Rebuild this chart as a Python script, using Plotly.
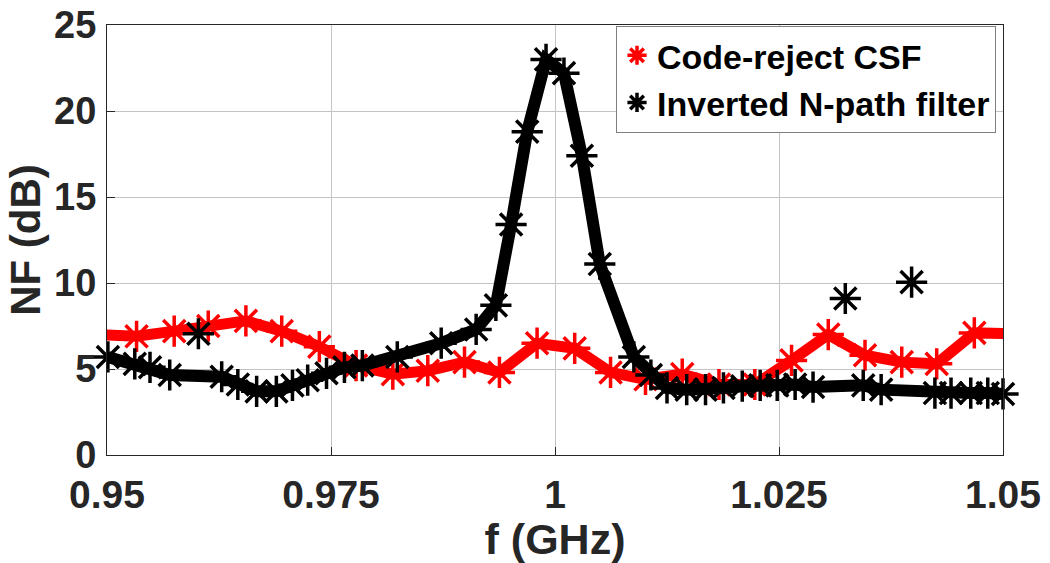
import plotly.graph_objects as go

# Code-reject CSF noise figure (dB) vs frequency (GHz)
csf_f = [0.9492, 0.9533, 0.9575, 0.9613, 0.9655, 0.9695, 0.9737, 0.9778, 0.9819,
         0.9858, 0.9899, 0.9938, 0.9980, 1.0022, 1.0062, 1.0101, 1.0142, 1.0183,
         1.0223, 1.0264, 1.0305, 1.0346, 1.0387, 1.0426, 1.0468, 1.0509]
csf_nf = [7.0, 6.9, 7.2, 7.5, 7.8, 7.2, 6.3, 5.2, 4.7,
          4.9, 5.4, 4.8, 6.5, 6.2, 4.8, 4.4, 4.7, 4.1,
          4.1, 5.5, 7.0, 5.8, 5.4, 5.3, 7.1, 7.05]

# Inverted N-path filter noise figure (dB) vs frequency (GHz)
npf_f = [0.9501, 0.9531, 0.9548, 0.9570, 0.9628, 0.9646, 0.9667, 0.9689, 0.9707,
         0.9724, 0.9745, 0.9765, 0.9785, 0.9824, 0.9873, 0.9912, 0.9934, 0.9951,
         0.9969, 0.9990, 1.0010, 1.0030, 1.0050, 1.0088, 1.0107, 1.0125, 1.0147,
         1.0168, 1.0188, 1.0209, 1.0229, 1.0248, 1.0268, 1.0288, 1.0344, 1.0364,
         1.0424, 1.0442, 1.0464, 1.0483, 1.0500]
npf_nf = [5.7, 5.3, 5.1, 4.65, 4.55, 4.1, 3.7, 3.7, 4.05,
          4.35, 4.75, 5.1, 5.2, 5.7, 6.5, 7.3, 8.7, 13.4,
          18.8, 23.0, 22.2, 17.4, 11.1, 5.7, 4.65, 3.9, 3.8,
          3.8, 3.9, 4.0, 4.05, 4.05, 4.1, 3.95, 4.05, 3.8,
          3.6, 3.6, 3.6, 3.6, 3.55]

# Stray inverted N-path measurements (markers only)
npf_extra_f = [0.9602, 1.0324, 1.0398]
npf_extra_nf = [7.05, 9.1, 10.05]

x_ticks = [0.95, 0.975, 1.0, 1.025, 1.05]
x_tick_text = ["0.95", "0.975", "1", "1.025", "1.05"]
y_ticks = [0, 5, 10, 15, 20, 25]

RED = "#ff0000"
BLACK = "#000000"
AXIS_GREY = "#262626"
FONT = "Liberation Sans"


def star(color, size=26, width=3.5):
    return dict(symbol="asterisk", size=size, color=color,
                line=dict(color=color, width=width))


fig = go.Figure()

fig.add_trace(go.Scatter(x=csf_f, y=csf_nf, mode="lines",
                         line=dict(color=RED, width=11), showlegend=False))
fig.add_trace(go.Scatter(x=csf_f, y=csf_nf, mode="markers", marker=star(RED),
                         name="Code-reject CSF", cliponaxis=True))
fig.add_trace(go.Scatter(x=npf_f, y=npf_nf, mode="lines",
                         line=dict(color=BLACK, width=12), showlegend=False))
fig.add_trace(go.Scatter(x=npf_f, y=npf_nf, mode="markers", marker=star(BLACK),
                         name="Inverted N-path filter", cliponaxis=False))
fig.add_trace(go.Scatter(x=npf_extra_f, y=npf_extra_nf, mode="markers",
                         marker=star(BLACK), showlegend=False, cliponaxis=False))

axis_common = dict(
    showline=True, linecolor=AXIS_GREY, linewidth=1, mirror=True,
    showgrid=True, gridcolor="#c4c4c4", gridwidth=1,
    ticks="inside", ticklen=8, tickcolor=AXIS_GREY,
    zeroline=False, automargin=False,
)

fig.update_xaxes(
    range=[0.95, 1.05], tickvals=x_ticks, ticktext=x_tick_text,
    ticklabelstandoff=5,
    tickfont=dict(family=FONT, size=39, color=AXIS_GREY, weight="bold"),
    title=dict(text="f (GHz)",
               font=dict(family=FONT, size=43, color=AXIS_GREY, weight="bold"),
               standoff=0),
    **axis_common,
)
fig.update_yaxes(
    range=[0, 25], tickvals=y_ticks,
    ticklabelstandoff=2,
    tickfont=dict(family=FONT, size=38, color=AXIS_GREY, weight="bold"),
    title=dict(text="NF (dB)",
               font=dict(family=FONT, size=42, color=AXIS_GREY, weight="bold"),
               standoff=0),
    **axis_common,
)

fig.update_layout(
    width=1050, height=563,
    margin=dict(l=107, r=47, t=25, b=108),
    paper_bgcolor="white", plot_bgcolor="white",
    font=dict(family=FONT, color=BLACK),
    legend=dict(
        x=0.9922, y=0.9985, xanchor="right", yanchor="top",
        bgcolor="white", bordercolor="#7f7f7f", borderwidth=1,
        font=dict(family=FONT, size=34, color=BLACK, weight="bold"),
        itemwidth=30, tracegroupgap=0,
    ),
)

fig.write_html("out.html")
